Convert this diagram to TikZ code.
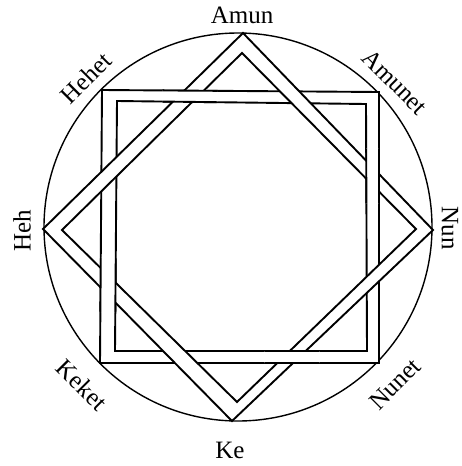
\documentclass[tikz,border=0pt]{standalone}
\usepackage{fontspec}
\setmainfont{Liberation Serif}
\begin{document}
\begin{tikzpicture}[x=1pt,y=-1pt,
  band/.style={fill=white, draw=black, line width=1.9pt, even odd rule, line join=miter},
  lbl/.style={font=\fontsize{25}{30}\selectfont, inner sep=0pt}]
\useasboundingbox[fill=white] (0,0) rectangle (462,466);
\draw[line width=1.4pt] (238,227) circle (194pt);
% square band
\path[band] (102,90) -- (379,92) -- (379,363) -- (100,363) -- cycle
            (117,101) -- (366,104) -- (367,351) -- (115,351) -- cycle;
% diamond band
\path[band] (243,33) -- (433,230) -- (232,421) -- (43,229) -- cycle
            (242,53) -- (416,229) -- (237,402) -- (62,230) -- cycle;
% square over diamond at alternate crossings
\begin{scope}
  \clip (190,95) circle (28pt) (372,176) circle (28pt) (292,357) circle (28pt) (108,285) circle (28pt);
  \path[band] (102,90) -- (379,92) -- (379,363) -- (100,363) -- cycle
              (117,101) -- (366,104) -- (367,351) -- (115,351) -- cycle;
\end{scope}
% labels
\node[lbl] (amun) at (242,15) {Amun};
\node[lbl, rotate=90] (heh) at (22,231) {Heh};
\node[lbl, rotate=-90] (nun) at (450,228) {Nun};
\node[lbl] (ke) at (230,450) {Ke};
\node[lbl, rotate=45] (hehet) at (86,78) {Hehet};
\node[lbl, rotate=-45] (amunet) at (395,82) {Amunet};
\node[lbl, rotate=-45] (keket) at (82,385) {Keket};
\node[lbl, rotate=45] (nunet) at (395,384) {Nunet};
\end{tikzpicture}
\end{document}
